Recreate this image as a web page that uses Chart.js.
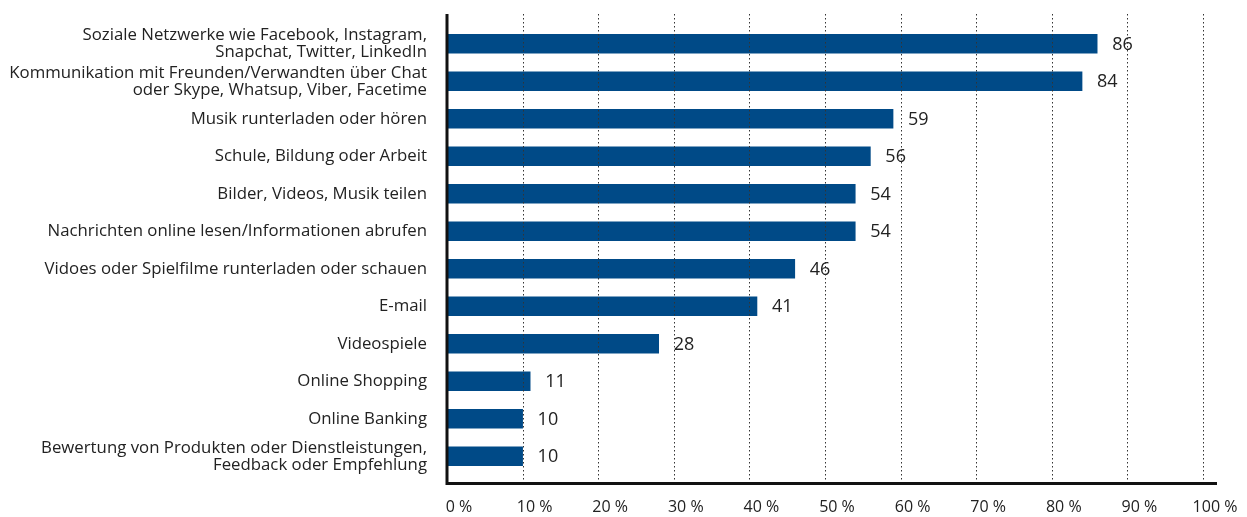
<!DOCTYPE html>
<html>
<head>
<meta charset="utf-8">
<script src="https://cdn.jsdelivr.net/npm/chart.js@4"></script>
<style>
html,body{margin:0;padding:0;background:#fff;}
#wrap{width:1247px;height:517px;position:relative;}
</style>
</head>
<body>
<div id="wrap"><canvas id="c"></canvas></div>
<script>
const categories = [
  ["Soziale Netzwerke wie Facebook, Instagram,", "Snapchat, Twitter, LinkedIn"],
  ["Kommunikation mit Freunden/Verwandten über Chat", "oder Skype, Whatsup, Viber, Facetime"],
  "Musik runterladen oder hören",
  "Schule, Bildung oder Arbeit",
  "Bilder, Videos, Musik teilen",
  "Nachrichten online lesen/Informationen abrufen",
  "Vidoes oder Spielfilme runterladen oder schauen",
  "E-mail",
  "Videospiele",
  "Online Shopping",
  "Online Banking",
  ["Bewertung von Produkten oder Dienstleistungen,", "Feedback oder Empfehlung"]
];
const values = [86, 84, 59, 56, 54, 54, 46, 41, 28, 11, 10, 10];
const tickValues = [0, 10, 20, 30, 40, 50, 60, 70, 80, 90, 100];
const tickLabels = ["0 %", "10 %", "20 %", "30 %", "40 %", "50 %", "60 %", "70 %", "80 %", "90 %", "100 %"];

const FONT = "'Open Sans', 'Noto Sans', sans-serif";
const BLUE = "#004a87";

const overlay = {
  id: 'overlay',
  afterDatasetsDraw(chart) {
    const ctx = chart.ctx;
    const xs = chart.scales.x;
    const area = chart.chartArea;
    const top = area.top - 11;
    const bottom = area.bottom + 7;
    ctx.save();
    // dotted gridlines over bars
    ctx.strokeStyle = '#333';
    ctx.lineWidth = 1;
    ctx.setLineDash([1.5, 2.5]);
    tickValues.forEach(v => {
      if (v === 0) return;
      const x = Math.round(xs.getPixelForValue(v)) + 0.5;
      ctx.beginPath();
      ctx.moveTo(x, top);
      ctx.lineTo(x, bottom);
      ctx.stroke();
    });
    ctx.setLineDash([]);
    // axes
    ctx.strokeStyle = '#111';
    ctx.lineWidth = 3;
    const x0 = xs.getPixelForValue(0);
    ctx.beginPath();
    ctx.moveTo(x0, top);
    ctx.lineTo(x0, bottom + 1.5);
    ctx.lineTo(xs.getPixelForValue(100) + 14, bottom + 1.5);
    ctx.stroke();
    // value labels
    ctx.fillStyle = '#222';
    ctx.font = "18px " + FONT;
    ctx.textAlign = 'left';
    ctx.textBaseline = 'middle';
    const meta = chart.getDatasetMeta(0);
    meta.data.forEach((bar, i) => {
      ctx.fillText(String(values[i]), bar.x + 15, bar.y + 1);
    });
    ctx.restore();
  }
};

new Chart(document.getElementById('c'), {
  type: 'bar',
  data: {
    labels: categories,
    datasets: [{
      data: values,
      backgroundColor: BLUE,
      borderWidth: 0,
      barThickness: 19
    }]
  },
  options: {
    indexAxis: 'y',
    responsive: true,
    maintainAspectRatio: false,
    animation: false,
    layout: { padding: { top: 25, right: 44, bottom: 0, left: 0 } },
    plugins: { legend: { display: false }, tooltip: { enabled: false } },
    scales: {
      x: {
        min: 0, max: 100,
        afterBuildTicks(scale) { scale.ticks = tickValues.map(v => ({ value: v })); },
        afterFit(scale) { scale.height = 42; scale.paddingLeft = 0; scale.paddingRight = 0; },
        grid: { display: false, drawTicks: false },
        border: { display: false },
        ticks: {
          padding: 23,
          labelOffset: 12,
          autoSkip: false,
          color: '#222',
          font: { family: FONT, size: 16 },
          callback: (v) => tickLabels[tickValues.indexOf(v)],
          maxRotation: 0
        }
      },
      y: {
        afterFit(scale) { scale.width = 447; scale.paddingTop = 0; scale.paddingBottom = 0; },
        grid: { display: false, drawTicks: false },
        border: { display: false },
        ticks: {
          padding: 20,
          autoSkip: false,
          color: '#222',
          font: { family: FONT, size: 16.8, lineHeight: '17px' }
        }
      }
    }
  },
  plugins: [overlay]
});
</script>
</body>
</html>
